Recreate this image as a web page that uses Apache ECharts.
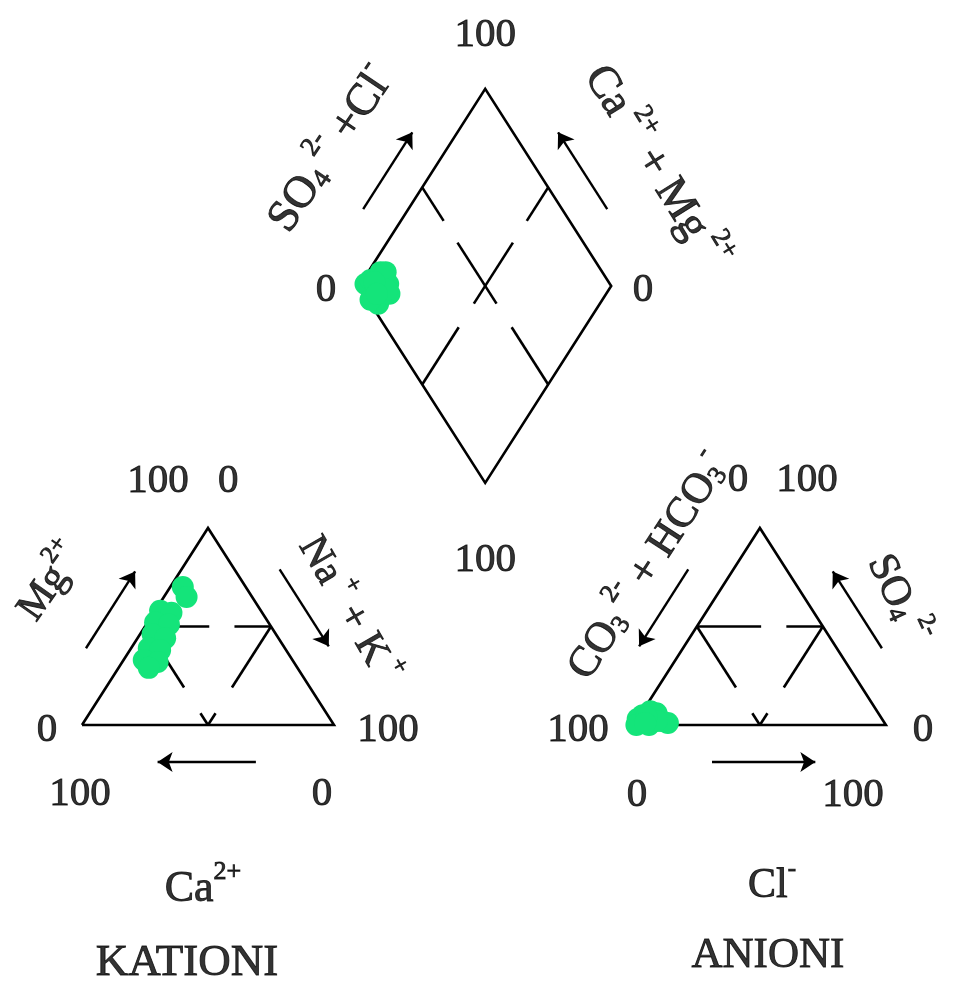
<!DOCTYPE html>
<html><head><meta charset="utf-8">
<script src="https://cdn.jsdelivr.net/npm/echarts@6.0.0/dist/echarts.min.js"></script>
<style>html,body{margin:0;padding:0;background:#fff}#c{width:963px;height:981px}</style>
</head><body><div id="c"></div>
<script>
// ---- sample composition (% meq) ----
const caPct   = [40,36,45,40,49,45,54,50,59,54,59,25,26];
const mgPct   = [58,57,52,51,46,44,39,38,33,32,29,70,65];
const naKPct  = [2,7,3,9,5,11,7,12,8,14,12,5,9];
const hco3Pct = [97,93,94,94,88,88,86,97,99,90,90,93,95];
const so4Pct  = [1,3,0,5,2,6,1,3,0,7,2,4,1];
const clPct   = [2,4,6,1,10,6,13,0,1,3,8,3,4];
// scale end labels
const scaleEnds = ['0','100'];
const LO = scaleEnds[0], HI = scaleEnds[1];

const FONT = 'Liberation Serif';
const INK = '#000';
const GREEN = '#14e47a';

// ---- geometry in data units (side = 100) ----
const H = 100*Math.sqrt(3)/2;
const CAT = {A:[0,0], B:[100,0], C:[50,H]};
const AN  = {A:[219,0], B:[319,0], C:[269,H]};
const DC = [160,193];
const DIA = {L:[DC[0]-50,DC[1]], R:[DC[0]+50,DC[1]], T:[DC[0],DC[1]+H], B:[DC[0],DC[1]-H]};

const lerp=(P,Q,t)=>[P[0]+(Q[0]-P[0])*t, P[1]+(Q[1]-P[1])*t];
const mid=(P,Q)=>lerp(P,Q,0.5);
const add=(P,d)=>[P[0]+d[0],P[1]+d[1]];
function seg(P,Q,t0,t1){return {coords:[lerp(P,Q,t0),lerp(P,Q,t1)]};}
function edgeArrow(P,Q,t0,t1,off,side){
  const dx=Q[0]-P[0], dy=Q[1]-P[1], L=Math.hypot(dx,dy);
  const n = side>0?[-dy/L,dx/L]:[dy/L,-dx/L];
  const a=lerp(P,Q,t0), b=lerp(P,Q,t1);
  return {coords:[add(a,[n[0]*off,n[1]*off]), add(b,[n[0]*off,n[1]*off])]};
}
function bary(T,a,c,b){ // weights for A, C(apex), B
  const s=a+b+c;
  return [(a*T.A[0]+c*T.C[0]+b*T.B[0])/s,(a*T.A[1]+c*T.C[1]+b*T.B[1])/s];
}
function triInner(T){
  const mAC=mid(T.A,T.C), mBC=mid(T.B,T.C), mAB=mid(T.A,T.B);
  return [seg(mAC,mBC,0,0.51),seg(mAC,mBC,0.71,1),seg(mAC,mAB,0,0.62),seg(mAC,mAB,0.88,1),
          seg(mBC,mAB,0,0.62),seg(mBC,mAB,0.88,1)];
}
function diaInner(){
  const ULM=mid(DIA.L,DIA.T), LRM=mid(DIA.R,DIA.B), URM=mid(DIA.R,DIA.T), LLM=mid(DIA.L,DIA.B);
  const out=[];
  [[ULM,LRM],[URM,LLM]].forEach(([P,Q])=>{
    out.push(seg(P,Q,0,0.17),seg(P,Q,0.28,0.59),seg(P,Q,0.71,1));
  });
  return out;
}

// ---- points ----
const catPts = caPct.map((ca,i)=>bary(CAT,ca,mgPct[i],naKPct[i]));
const anPts  = hco3Pct.map((h,i)=>bary(AN,h,so4Pct[i],clPct[i]));
const diaPts = caPct.map((ca,i)=>{
  const c=(ca+mgPct[i])/100, s=(so4Pct[i]+clPct[i])/100;
  return [DIA.B[0]+s*(DIA.R[0]-DIA.B[0])+c*(DIA.L[0]-DIA.B[0]),
          DIA.B[1]+s*(DIA.R[1]-DIA.B[1])+c*(DIA.L[1]-DIA.B[1])];
});

// ---- text ----
const TB = {textBorderColor:'#000',textBorderWidth:0.9};
function rich(fs){
  const s=Math.round(fs*0.6);
  return {
    n:Object.assign({fontFamily:FONT,fontSize:fs,color:INK,lineHeight:Math.round(fs*1.2),verticalAlign:'bottom'},TB),
    sup:Object.assign({fontFamily:FONT,fontSize:s,color:INK,lineHeight:s,verticalAlign:'top'},TB),
    sub:Object.assign({fontFamily:FONT,fontSize:s,color:INK,lineHeight:s,verticalAlign:'bottom'},TB)
  };
}
function txt(pos,text,fs,rot){
  return {value:pos,label:Object.assign({show:true,formatter:text,rotate:rot||0,fontFamily:FONT,fontSize:fs,color:INK,
    rich:rich(fs),position:'inside',align:'center',verticalAlign:'middle'},TB)};
}
const NF=41;
const labels=[
  txt(add(DIA.T,[0,23.7]),HI,NF), txt(add(DIA.L,[-13.2,-2]),LO,NF), txt(add(DIA.R,[12.6,-2]),LO,NF),
  txt(add(DIA.B,[0,-33.9]),HI,NF),
  txt(add(CAT.C,[-19.8,20.7]),HI,NF), txt(add(CAT.C,[8,20.7]),LO,NF),
  txt(add(CAT.A,[-13.9,-2.5]),LO,NF), txt(add(CAT.B,[21.4,-2.5]),HI,NF),
  txt(add(CAT.A,[-0.8,-30.3]),HI,NF), txt(add(CAT.B,[-4.8,-30.3]),LO,NF),
  txt(add(AN.C,[-8.7,21.1]),LO,NF), txt(add(AN.C,[18.7,21.1]),HI,NF),
  txt(add(AN.A,[-22.2,-2.5]),HI,NF), txt(add(AN.B,[14.7,-2.5]),LO,NF),
  txt(add(AN.A,[1.2,-30.8]),LO,NF), txt(add(AN.B,[-13,-30.8]),HI,NF),
  txt(add(mid(CAT.A,CAT.B),[-2,-70.5]),'{n|Ca}{sup|2+}',44),
  txt(add(mid(CAT.A,CAT.B),[-8.3,-102.5]),'{n|KATIONI}',45),
  txt(add(mid(AN.A,AN.B),[4.8,-69]),'{n|Cl}{sup|-}',42),
  txt(add(mid(AN.A,AN.B),[3.2,-99.5]),'{n|ANIONI}',43),
  txt([-13.5,63.7],'{n|Mg}{sup|2+}',41,55),
  txt([107,51.5],'{n|Na}{sup| +}{n| + K}{sup| +}',41,-60),
  txt([223.5,70.5],'{n|CO}{sub|3}{sup| 2-}{n| + HCO}{sub|3}{sup|-}',43,57),
  txt([325,56],'{n|SO}{sub|4}{sup| 2-}',42,-65),
  txt([97.6,254],'{n|SO}{sub|4}{sup| 2-}{n| +Cl}{sup|-}',45,56),
  txt([229,246],'{n|Ca}{sup| 2+}{n| + Mg}{sup| 2+}',45,-58)
];

const lineStyle={color:INK,width:2.6,opacity:1};
const chart=echarts.init(document.getElementById('c'),null,{renderer:'canvas'});
chart.setOption({
  animation:false,
  backgroundColor:'#fff',
  grid:{left:0,right:0,top:0,bottom:0},
  xAxis:{type:'value',min:-82/2.52,max:(963-82)/2.52,show:false},
  yAxis:{type:'value',min:(725-981)/2.275,max:725/2.275,show:false},
  series:[
    {type:'lines',coordinateSystem:'cartesian2d',polyline:true,silent:true,lineStyle,
     data:[{coords:[CAT.A,CAT.B,CAT.C,CAT.A]},{coords:[AN.A,AN.B,AN.C,AN.A]},
           {coords:[DIA.L,DIA.T,DIA.R,DIA.B,DIA.L]}]},
    {type:'lines',coordinateSystem:'cartesian2d',silent:true,lineStyle,
     data:[].concat(triInner(CAT),triInner(AN),diaInner())},
    {type:'lines',coordinateSystem:'cartesian2d',silent:true,lineStyle:{color:INK,width:2.4,opacity:1},
     symbol:['none','arrow'],symbolSize:15,
     data:[edgeArrow(CAT.A,CAT.C,0.3,0.69,15.5,1),edgeArrow(CAT.C,CAT.B,0.3,0.69,15.5,1),
           edgeArrow(CAT.B,CAT.A,0.31,0.70,16.3,1),
           edgeArrow(AN.C,AN.A,0.3,0.69,15.5,-1),edgeArrow(AN.B,AN.C,0.3,0.69,15.5,-1),
           edgeArrow(AN.A,AN.B,0.31,0.72,16.3,-1),
           edgeArrow(DIA.L,DIA.T,0.3,0.69,15.5,1),edgeArrow(DIA.R,DIA.T,0.3,0.69,15.5,-1)]},
    {type:'scatter',name:'Kationi',data:catPts,symbolSize:22,itemStyle:{color:GREEN,opacity:1},silent:true},
    {type:'scatter',name:'Anioni',data:anPts,symbolSize:22,itemStyle:{color:GREEN,opacity:1},silent:true},
    {type:'scatter',name:'Dijamant',data:diaPts,symbolSize:22,itemStyle:{color:GREEN,opacity:1},silent:true},
    {type:'scatter',data:labels,symbolSize:0,itemStyle:{color:'rgba(0,0,0,0)'},silent:true}
  ]
});
</script></body></html>
